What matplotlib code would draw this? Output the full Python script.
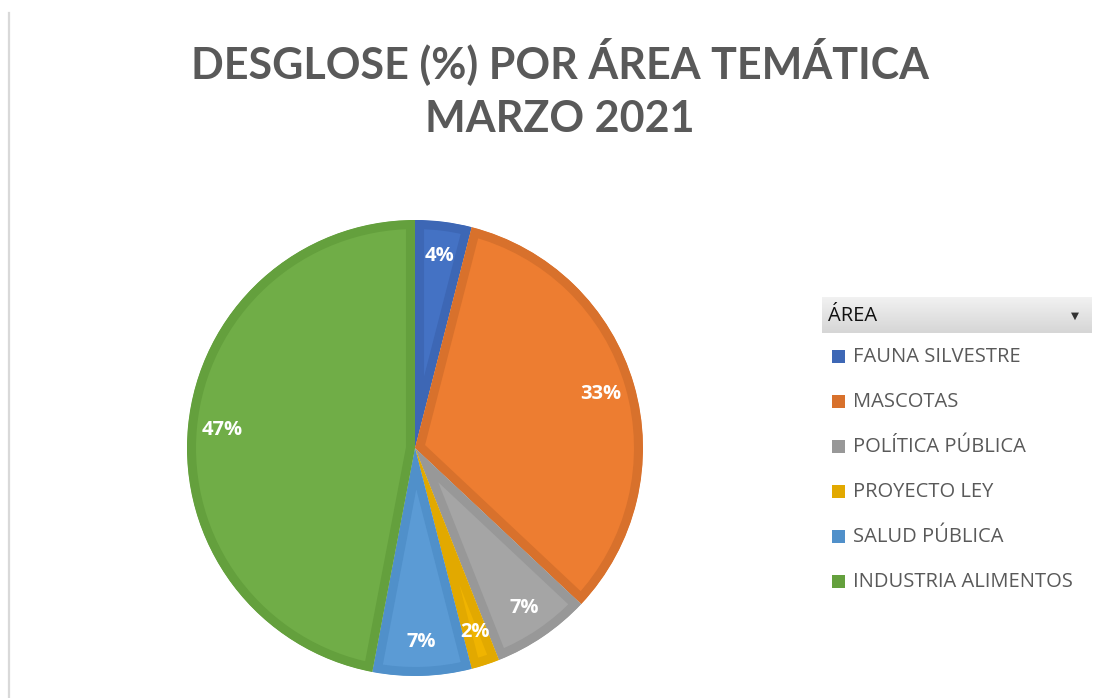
import matplotlib
matplotlib.use('Agg')
import matplotlib.pyplot as plt
import numpy as np
from matplotlib.patches import Rectangle, Wedge
from matplotlib.lines import Line2D

# datos del gráfico
areas = ['FAUNA SILVESTRE', 'MASCOTAS', 'POLÍTICA PÚBLICA', 'PROYECTO LEY',
         'SALUD PÚBLICA', 'INDUSTRIA ALIMENTOS']
porcentajes = [4, 33, 7, 2, 7, 47]
colores = ['#4472C4', '#ED7D31', '#A5A5A5', '#F0B400', '#5B9BD5', '#70AD47']
bordes = ['#3D67B5', '#D8712C', '#989898', '#E2A900', '#5090CA', '#64A03D']

titulo = 'DESGLOSE (%) POR ÁREA TEMÁTICA\nMARZO 2021'
cabecera = 'ÁREA'

W, H = 1100, 698
fig = plt.figure(figsize=(W / 100, H / 100), dpi=100)
fig.patch.set_facecolor('white')


def px(x, y):
    # pixeles desde arriba-izquierda -> coordenadas de figura
    return x / W, 1 - y / H


# línea gris a la izquierda
fig.add_artist(Line2D([9 / W, 9 / W], [0, 1 - 13 / H], color='#d9d9d9',
                      linewidth=1.6, transform=fig.transFigure))

# titulo
fig.text(*px(560, 88), titulo, ha='center', va='center', fontsize=31,
         fontweight='bold', color='#595959', family='Lato', linespacing=1.4)

# pastel
cx, cy, r = 415, 448, 228
ax = fig.add_axes([(cx - r) / W, (H - cy - r) / H, 2 * r / W, 2 * r / H])
wedges, textos, pcts = ax.pie(
    porcentajes, colors=colores, startangle=90, counterclock=False,
    autopct='%d%%', pctdistance=0.85, radius=1,
    textprops=dict(color='white', fontsize=14.5, fontweight='bold', family='Open Sans'))
for w, b in zip(wedges, bordes):
    w.set_edgecolor(b)
    w.set_linewidth(13)
    # borde solo hacia adentro: recortar con una copia de la cuña
    clip = Wedge(w.center, w.r, w.theta1, w.theta2, transform=ax.transData)
    w.set_clip_on(True)
    w.set_clip_path(clip)
ax.set_xlim(-1.0, 1.0)
ax.set_ylim(-1.0, 1.0)
ax.set_aspect('equal')
ax.axis('off')

# cabecera de la leyenda
hx0, hy0, hx1, hy1 = 822, 297, 1092, 333
hax = fig.add_axes([hx0 / W, (H - hy1) / H, (hx1 - hx0) / W, (hy1 - hy0) / H])
grad = np.linspace(0, 1, 50).reshape(-1, 1)
hax.imshow(grad, aspect='auto', cmap=matplotlib.colors.LinearSegmentedColormap.from_list(
    'g', ['#f2f2f2', '#d6d6d6']), extent=[0, 1, 0, 1])
hax.axis('off')
fig.text(*px(828, 316), cabecera, ha='left', va='center', fontsize=14.5,
         color='#111111', family='Open Sans')
fig.text(*px(1075, 316), '▼', ha='center', va='center', fontsize=7.5,
         color='#333333', family='DejaVu Sans')

# entradas de la leyenda
for i, (nombre, b) in enumerate(zip(areas, bordes)):
    y = 357 + i * 45
    fig.add_artist(Rectangle(px(832, y + 6), 13 / W, 13 / H, facecolor=b,
                             edgecolor='none', transform=fig.transFigure))
    fig.text(*px(853, y), nombre, ha='left', va='center', fontsize=14.5,
             color='#595959', family='Open Sans')

fig.savefig('out.png', dpi=100)
